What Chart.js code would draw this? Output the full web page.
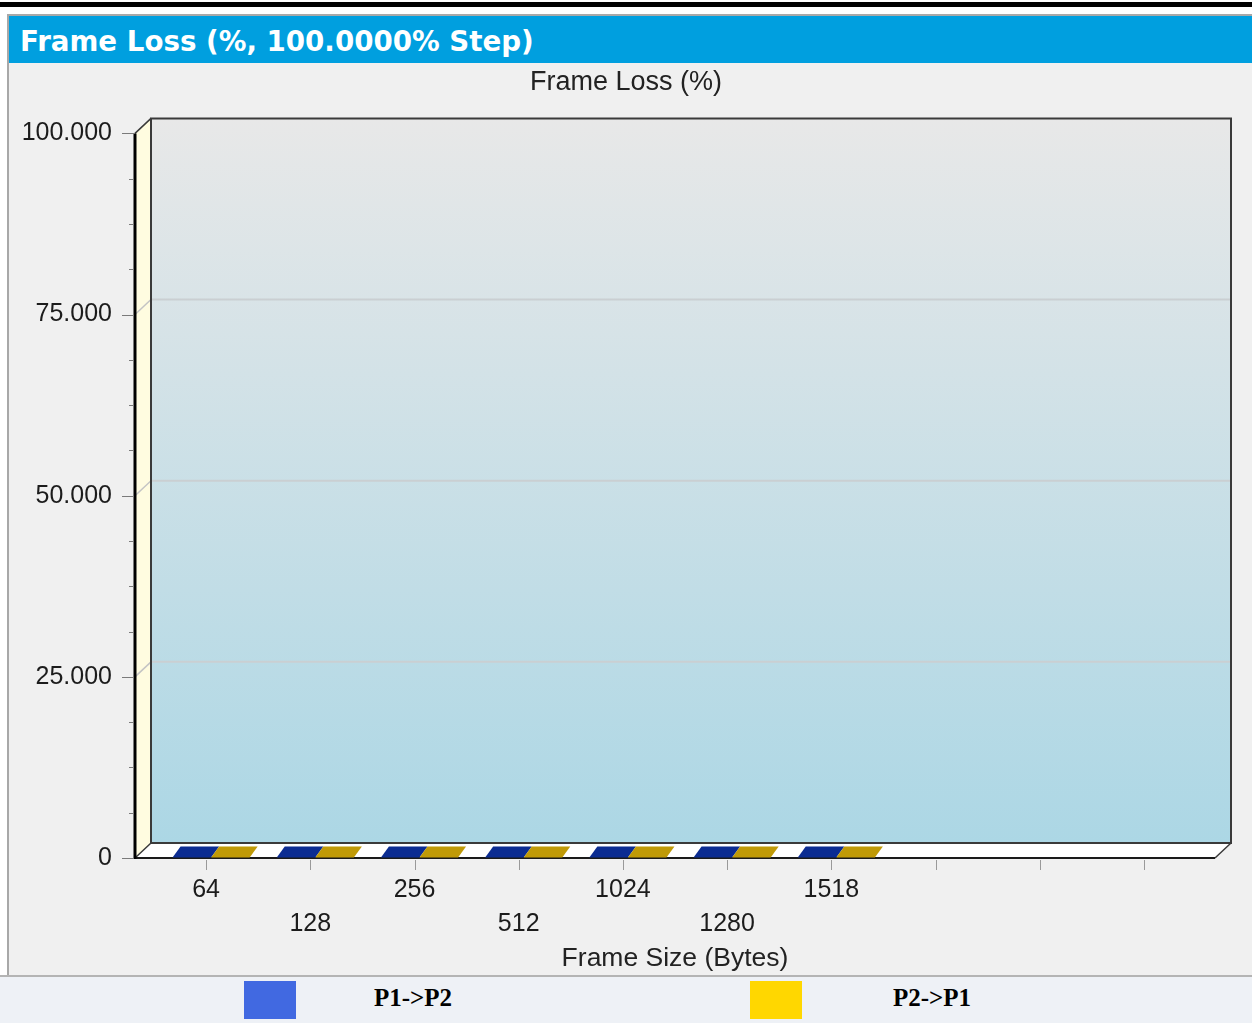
<!DOCTYPE html>
<html>
<head>
<meta charset="utf-8">
<title>Frame Loss</title>
<script src="https://cdn.jsdelivr.net/npm/chart.js@4.4.0/dist/chart.umd.min.js"></script>
<style>
    body { margin: 0; width: 1252px; height: 1023px; background: #ffffff; position: relative; overflow: hidden; }
    #topBar { position: absolute; left: 0; top: 2px; width: 1252px; height: 5px; background: #000; }
    #panel { position: absolute; left: 7px; top: 14px; width: 1245px; height: 961px; background: #f0f0f0;
             border-left: 2px solid #a8a8a8; border-top: 2px solid #a8a8a8; box-sizing: border-box; }
    #header { position: absolute; left: 9px; top: 16px; width: 1243px; height: 47px; background: #009fdf; color: #fff;
              font: bold 27.7px "DejaVu Sans", Verdana, sans-serif; line-height: 52px; padding-left: 11px; box-sizing: border-box; }
    #chartBox { position: absolute; left: 0; top: 0; width: 1252px; height: 975px; }
    #legend { position: absolute; left: 0; top: 975px; width: 1252px; height: 48px; background: #eef1f6;
              border-top: 2px solid #b4b4b4; box-sizing: border-box; }
    .swatch { position: absolute; top: 4px; width: 52px; height: 38px; }
    .legendText { position: absolute; top: 7px; width: 200px; margin-left: -100px; text-align: center;
                  font: bold 25px "Liberation Serif", "Times New Roman", serif; color: #000; }
</style>
</head>
<body>
<div id="topBar"></div>
<div id="panel"></div>
<div id="header">Frame Loss (%, 100.0000% Step)</div>
<div id="chartBox"><canvas id="lossChart"></canvas></div>
<div id="legend"></div>

<script>
// chart data
var frameSizes = ['64', '128', '256', '512', '1024', '1280', '1518', '', '', ''];
var p1ToP2 = [0, 0, 0, 0, 0, 0, 0];
var p2ToP1 = [0, 0, 0, 0, 0, 0, 0];
var seriesNames = ['P1->P2', 'P2->P1'];
var seriesColors = ['#4169e1', '#ffd700'];
var seriesTopColors = ['#0b2c92', '#c09a07'];
var yTickLabels = ['0', '25.000', '50.000', '75.000', '100.000'];

// 3d look
var depthX = 16;
var depthY = 15;
var frontMargin = 19;

//build html legend
var legendBox = document.getElementById('legend');
for (let i = 0; i < seriesNames.length; i++) {
    var sw = document.createElement('div');
    sw.className = 'swatch';
    sw.style.left = (244 + i * 506) + 'px';
    sw.style.background = seriesColors[i];
    legendBox.appendChild(sw);

    var txt = document.createElement('div');
    txt.className = 'legendText';
    txt.style.left = (413 + i * 519) + 'px';
    txt.textContent = seriesNames[i];
    legendBox.appendChild(txt);
}

const frame3d = {
    id: 'frame3d',
    beforeDatasetsDraw(chart) {
        var ctx = chart.ctx;
        var ca = chart.chartArea;
        var yScale = chart.scales.y;
        var xScale = chart.scales.x;

        var fl = ca.left - frontMargin, fr = ca.right + frontMargin;
        var ft = ca.top, fb = ca.bottom;
        var bl = fl + depthX, br = fr + depthX, bt = ft - depthY, bb = fb - depthY;

        ctx.save();

        //back wall
        var grad = ctx.createLinearGradient(0, bt, 0, bb);
        grad.addColorStop(0, '#e8e8e8');
        grad.addColorStop(1, '#acd7e5');
        ctx.fillStyle = grad;
        ctx.fillRect(bl, bt, br - bl, bb - bt);

        //left wall
        ctx.fillStyle = '#fffce0';
        ctx.beginPath();
        ctx.moveTo(fl, ft); ctx.lineTo(bl, bt); ctx.lineTo(bl, bb); ctx.lineTo(fl, fb);
        ctx.closePath();
        ctx.fill();

        //floor
        ctx.fillStyle = '#ffffff';
        ctx.beginPath();
        ctx.moveTo(fl, fb); ctx.lineTo(fr, fb); ctx.lineTo(br, bb); ctx.lineTo(bl, bb);
        ctx.closePath();
        ctx.fill();

        //grid lines on back wall + left wall
        var majors = yScale.ticks.map(t => t.value);
        majors.forEach(function(v) {
            if (v === yScale.min || v === yScale.max) return;
            var py = yScale.getPixelForValue(v);
            ctx.strokeStyle = '#cacfd2';
            ctx.lineWidth = 2;
            ctx.beginPath();
            ctx.moveTo(bl, py - depthY); ctx.lineTo(br, py - depthY);
            ctx.stroke();
            ctx.strokeStyle = '#c4c4c4';
            ctx.lineWidth = 1.5;
            ctx.beginPath();
            ctx.moveTo(fl, py); ctx.lineTo(bl, py - depthY);
            ctx.stroke();
        });

        //outlines
        ctx.strokeStyle = '#3a3a3a';
        ctx.lineWidth = 2;
        ctx.beginPath();
        ctx.moveTo(bl, bb); ctx.lineTo(bl, bt); ctx.lineTo(br, bt); ctx.lineTo(br, bb); ctx.lineTo(bl, bb);
        ctx.stroke();
        ctx.lineWidth = 1.5;
        ctx.beginPath();
        ctx.moveTo(fl, ft); ctx.lineTo(bl, bt);
        ctx.moveTo(fl, fb); ctx.lineTo(bl, bb);
        ctx.moveTo(fr, fb); ctx.lineTo(br, bb);
        ctx.stroke();
        ctx.strokeStyle = '#1a1a1a';
        ctx.lineWidth = 2;
        ctx.beginPath();
        ctx.moveTo(fl, fb); ctx.lineTo(fr, fb);
        ctx.stroke();
        ctx.strokeStyle = '#000';
        ctx.lineWidth = 3;
        ctx.beginPath();
        ctx.moveTo(fl, ft); ctx.lineTo(fl, fb + 1);
        ctx.stroke();

        //y tick marks (major + minor)
        ctx.strokeStyle = '#7a7a7a';
        ctx.lineWidth = 1;
        var step = majors[1] - majors[0];
        for (let v = yScale.min; v <= yScale.max + 0.001; v += step / 4) {
            var py = Math.round(yScale.getPixelForValue(v)) + 0.5;
            var isMajor = Math.abs(v / step - Math.round(v / step)) < 0.001;
            ctx.beginPath();
            ctx.moveTo(fl - (isMajor ? 13 : 6), py); ctx.lineTo(fl - 1, py);
            ctx.stroke();
        }

        //x tick marks
        ctx.strokeStyle = '#9a9a9a';
        for (let i = 0; i < frameSizes.length; i++) {
            var px = Math.round(xScale.getPixelForTick(i)) + 0.5;
            ctx.beginPath();
            ctx.moveTo(px, fb + 2); ctx.lineTo(px, fb + 12);
            ctx.stroke();
        }

        ctx.restore();
    },
    afterDatasetsDraw(chart) {
        var ctx = chart.ctx;
        ctx.save();
        chart.data.datasets.forEach(function(ds, di) {
            var meta = chart.getDatasetMeta(di);
            meta.data.forEach(function(bar) {
                var p = bar.getProps(['x', 'y', 'base', 'width'], true);
                var left = p.x - p.width / 2 + 5;
                var right = p.x + p.width / 2 + 5;
                var top = Math.min(p.y, p.base) - 0.5;
                var bottom = p.base - 0.5;

                //front face
                if (bottom - top > 0.5) {
                    ctx.fillStyle = seriesColors[di];
                    ctx.fillRect(left, top, right - left, bottom - top);
                }

                //top face
                ctx.fillStyle = seriesTopColors[di];
                ctx.beginPath();
                ctx.moveTo(left, top);
                ctx.lineTo(right, top);
                ctx.lineTo(right + 8, top - 11);
                ctx.lineTo(left + 8, top - 11);
                ctx.closePath();
                ctx.fill();
            });
        });
        ctx.restore();
    }
};

Chart.defaults.font.family = '"Liberation Sans", Arial, sans-serif';
Chart.defaults.color = '#1c1c1c';

var ctx = document.getElementById('lossChart').getContext('2d');
var chart = new Chart(ctx, {
    type: 'bar',
    data: {
        labels: frameSizes,
        datasets: [{
            label: seriesNames[0],
            data: p1ToP2,
            backgroundColor: 'rgba(0,0,0,0)'
        }, {
            label: seriesNames[1],
            data: p2ToP1,
            backgroundColor: 'rgba(0,0,0,0)'
        }]
    },
    options: {
        responsive: true,
        maintainAspectRatio: false,
        animation: false,
        categoryPercentage: 0.74,
        barPercentage: 1.0,
        layout: {
            padding: 0
        },
        plugins: {
            legend: { display: false },
            tooltip: { enabled: false },
            title: {
                display: true,
                text: 'Frame Loss (%)',
                color: '#222',
                font: { size: 27, weight: 'normal' },
                padding: { top: 66, bottom: 35 }
            }
        },
        scales: {
            x: {
                grid: { display: false, drawTicks: false },
                border: { display: false },
                ticks: {
                    autoSkip: false,
                    maxRotation: 0,
                    minRotation: 0,
                    padding: 15,
                    font: { size: 25, lineHeight: 1.36 },
                    callback: function(value, index) {
                        var lbl = frameSizes[index];
                        return index % 2 === 0 ? [lbl, ''] : ['', lbl];
                    }
                },
                title: {
                    display: true,
                    text: 'Frame Size (Bytes)',
                    color: '#222',
                    font: { size: 26.5 },
                    padding: { top: 0, bottom: 0 }
                },
                afterFit: function(scale) { scale.height = 117; }
            },
            y: {
                min: 0,
                max: 100,
                grid: { display: false, drawTicks: false },
                border: { display: false },
                ticks: {
                    stepSize: 25,
                    padding: 42,
                    font: { size: 25 },
                    callback: function(value, index) {
                        return yTickLabels[index];
                    }
                },
                afterFit: function(scale) { scale.width = 154; }
            },
            // empty right side space so the title stays centred on the page
            yRight: {
                position: 'right',
                grid: { display: false, drawTicks: false },
                border: { display: false },
                ticks: { display: false },
                afterFit: function(scale) { scale.width = 56; }
            }
        }
    },
    plugins: [frame3d]
});
</script>
</body>
</html>
